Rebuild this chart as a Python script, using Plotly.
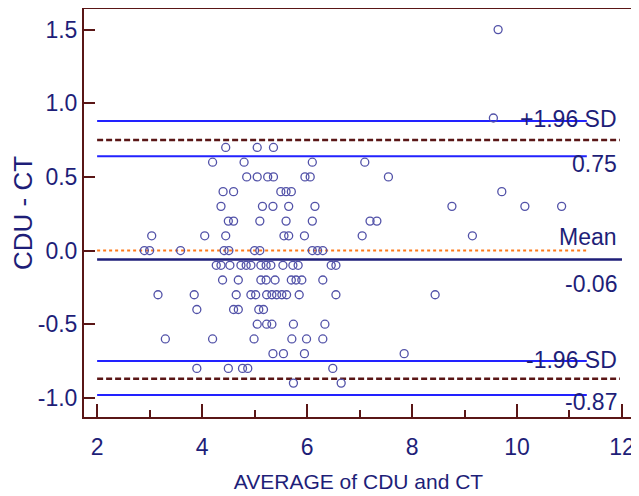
import plotly.graph_objects as go

# ---- data: (average, difference) pairs, grouped by difference level ----
avg_values = [
    9.64,
    9.55,
    4.45, 5.05, 5.36,
    4.20, 4.80, 6.10, 7.10,
    4.85, 5.05, 5.25, 5.36, 5.96, 6.06, 7.55,
    4.40, 4.60, 5.50, 5.60, 5.70, 9.71,
    4.36, 5.15, 5.35, 5.65, 6.15, 8.76, 10.15, 10.85,
    4.50, 4.60, 5.10, 5.60, 6.10, 7.20, 7.33,
    3.04, 4.05, 4.45, 5.56, 5.65, 5.95, 7.05, 9.15,
    2.90, 3.00, 3.59, 4.42, 4.51, 5.00, 5.10, 6.10, 6.20, 6.30,
    4.27, 4.36, 4.53, 4.74, 4.84, 4.93, 5.12, 5.22, 5.31, 5.54, 5.73, 5.83, 6.46, 6.55,
    4.39, 4.69, 5.12, 5.22, 5.39, 5.70, 5.79, 5.90, 6.30,
    3.16, 3.85, 4.65, 4.93, 5.02, 5.23, 5.33, 5.42, 5.52, 5.61, 5.85, 6.55, 8.44,
    3.90, 4.60, 4.69, 5.08, 5.17,
    5.05, 5.23, 5.33, 5.74, 6.34,
    3.30, 4.20, 4.99, 5.71, 5.99, 6.30,
    5.35, 5.55, 5.95, 7.85,
    3.90, 4.50, 4.77, 4.87, 6.49,
    5.74, 6.65,
]
diff_values = (
    [1.5] * 1 + [0.9] * 1 + [0.7] * 3 + [0.6] * 4 + [0.5] * 7 + [0.4] * 6 +
    [0.3] * 8 + [0.2] * 7 + [0.1] * 8 + [0.0] * 10 + [-0.1] * 14 + [-0.2] * 9 +
    [-0.3] * 13 + [-0.4] * 5 + [-0.5] * 5 + [-0.6] * 6 + [-0.7] * 4 +
    [-0.8] * 5 + [-0.9] * 2
)

mean_diff = -0.06
upper_loa = 0.75
upper_loa_ci = [0.64, 0.88]
lower_loa = -0.87
lower_loa_ci = [-0.98, -0.75]
zero_line = 0.0

line_labels = ["+1.96 SD", "0.75", "Mean", "-0.06", "-1.96 SD", "-0.87"]
label_y = [0.89, 0.59, 0.095, -0.227, -0.742, -1.03]

y_tick_vals = [-1.0, -0.5, 0.0, 0.5, 1.0, 1.5]
y_tick_text = ["-1.0", "-0.5", "0.0", "0.5", "1.0", "1.5"]

x_title = "AVERAGE of CDU and CT"
y_title = "CDU - CT"

# ---- styling ----
FONT = "Liberation Sans, Arial, sans-serif"
NAVY = "#1e1e78"
MAROON = "#5a1616"
BLUE = "#2222ff"
ORANGE = "#ff7a1a"
MARK = "#5252a8"

fig = go.Figure()

# horizontal reference lines
ci_x = [2, 11.33]
full_x = [2, 11.96]
for yv in upper_loa_ci + lower_loa_ci:
    fig.add_trace(go.Scatter(x=ci_x, y=[yv, yv], mode="lines",
                             line=dict(color=BLUE, width=2), hoverinfo="skip"))
for yv in [upper_loa, lower_loa]:
    fig.add_trace(go.Scatter(x=full_x, y=[yv, yv], mode="lines",
                             line=dict(color=MAROON, width=2.5, dash="6px,3px"),
                             hoverinfo="skip"))
fig.add_trace(go.Scatter(x=[2, 12], y=[mean_diff, mean_diff], mode="lines",
                         line=dict(color=NAVY, width=2.5), hoverinfo="skip"))
fig.add_trace(go.Scatter(x=ci_x, y=[zero_line, zero_line], mode="lines",
                         line=dict(color=ORANGE, width=2, dash="dot"),
                         hoverinfo="skip"))

# scatter points
fig.add_trace(go.Scatter(
    x=avg_values, y=diff_values, mode="markers",
    marker=dict(symbol="circle-open", size=8, color=MARK,
                line=dict(color=MARK, width=1.3)),
))

for txt, yv in zip(line_labels, label_y):
    fig.add_annotation(x=11.94, y=yv, text=txt, showarrow=False,
                       xanchor="right", yanchor="middle",
                       font=dict(family=FONT, size=23, color=NAVY))

# page body keeps an 8px margin, so the figure is sized to fit inside it
fig.update_layout(
    width=631, height=488,
    margin=dict(l=76, r=6, t=1, b=79),
    paper_bgcolor="white", plot_bgcolor="white",
    showlegend=False,
    font=dict(family=FONT, color=NAVY, size=23),
)
fig.update_xaxes(
    range=[1.75, 12.21], tick0=0, dtick=2, automargin=False,
    showgrid=False, zeroline=False,
    showline=True, linecolor=MAROON, linewidth=2, mirror=True,
    ticks="inside", ticklen=13, tickwidth=2, tickcolor=MAROON,
    minor=dict(dtick=1, ticks="inside", ticklen=7, tickwidth=2, tickcolor=MAROON),
    tickfont=dict(family=FONT, size=23, color=NAVY), ticklabelstandoff=8,
    title=dict(text=x_title, font=dict(family=FONT, size=21, color=NAVY), standoff=16),
)
fig.update_yaxes(
    range=[-1.13, 1.64], tickmode="array", tickvals=y_tick_vals, ticktext=y_tick_text,
    automargin=False,
    showgrid=False, zeroline=False,
    showline=True, linecolor=MAROON, linewidth=2, mirror=True,
    ticks="inside", ticklen=11, tickwidth=2, tickcolor=MAROON,
    tickfont=dict(family=FONT, size=23, color=NAVY),
    title=dict(text=y_title, font=dict(family=FONT, size=26, color=NAVY), standoff=0),
)

fig.write_html("out.html")
